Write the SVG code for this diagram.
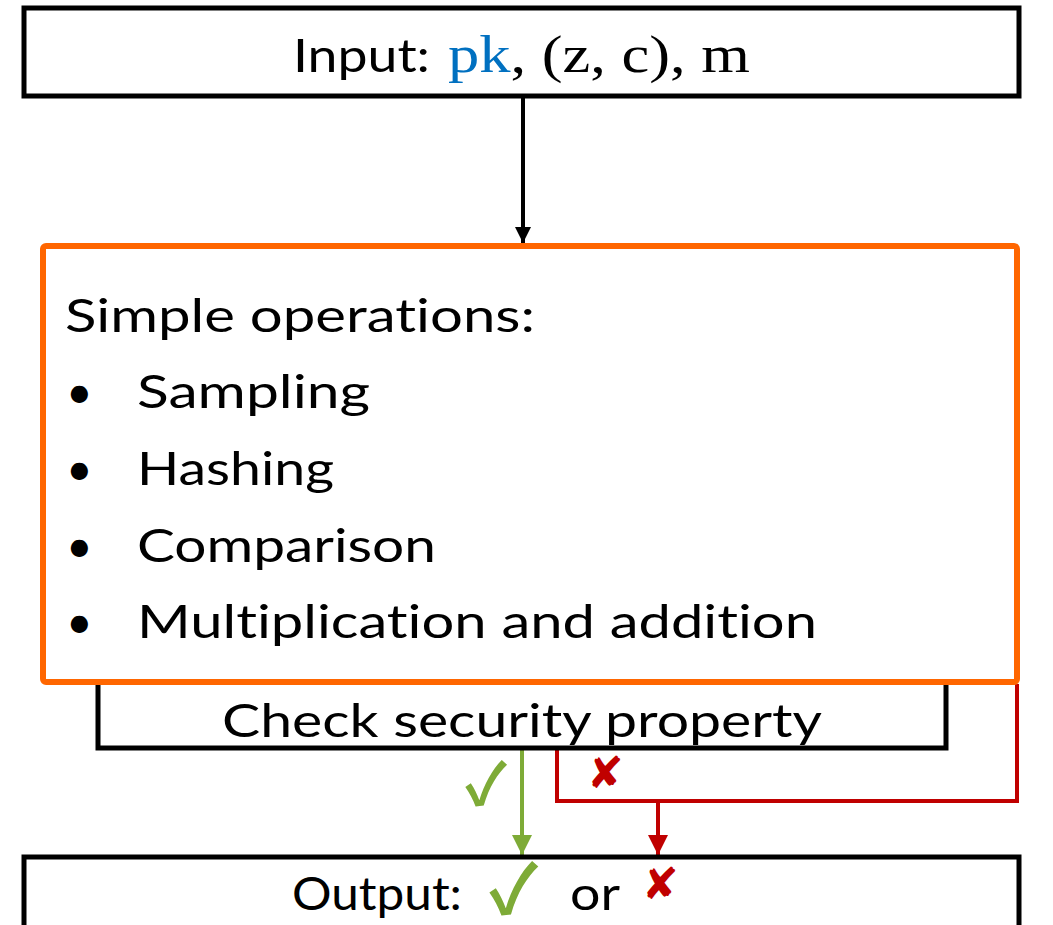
<svg xmlns="http://www.w3.org/2000/svg" width="1053" height="925" viewBox="0 0 1053 925">
  <style>
    .box { fill: #ffffff; stroke: #000000; stroke-width: 5; }
    .ops { fill: #ffffff; stroke: #FF6600; stroke-width: 6; }
    .sans { font-family: "Lato", "Liberation Sans", sans-serif; font-size: 46px; fill: #000000; font-variant-ligatures: none; }
    .math { font-family: "Liberation Serif", "DejaVu Serif", serif; font-size: 52px; fill: #000000; }
    .ok { fill: #7EAB37; font-family: "Noto Sans CJK JP", "DejaVu Sans", sans-serif; font-weight: 700; }
    .bad { fill: #C00000; font-family: "DejaVu Sans", sans-serif; font-weight: bold; }
  </style>
  <defs>
    <marker id="arrowBlack" viewBox="0 0 10 10" refX="10" refY="5" markerWidth="4" markerHeight="4" orient="auto" markerUnits="strokeWidth">
      <path d="M0,0 L10,5 L0,10 z" fill="#000000"/>
    </marker>
    <marker id="arrowGreen" viewBox="0 0 10 10" refX="10" refY="5" markerWidth="5" markerHeight="5" orient="auto" markerUnits="strokeWidth">
      <path d="M0,0 L10,5 L0,10 z" fill="#7EAB37"/>
    </marker>
    <marker id="arrowRed" viewBox="0 0 10 10" refX="10" refY="5" markerWidth="5" markerHeight="5" orient="auto" markerUnits="strokeWidth">
      <path d="M0,0 L10,5 L0,10 z" fill="#C00000"/>
    </marker>
  </defs>

  <!-- connectors -->
  <g id="connectors" fill="none">
    <line x1="523" y1="96" x2="523" y2="243" stroke="#000000" stroke-width="4" marker-end="url(#arrowBlack)"/>
    <line x1="522" y1="750" x2="522" y2="855" stroke="#7EAB37" stroke-width="4" marker-end="url(#arrowGreen)"/>
    <polyline points="557,750 557,801 1017,801 1017,684" stroke="#C00000" stroke-width="4"/>
    <line x1="658" y1="801" x2="658" y2="855" stroke="#C00000" stroke-width="4" marker-end="url(#arrowRed)"/>
    <text x="465" y="805" class="ok" font-size="58">✓</text>
    <text x="587" y="788" class="bad" font-size="44">✘</text>
  </g>

  <!-- input node -->
  <g id="input">
    <rect class="box" x="24" y="8" width="995" height="88"/>
    <text x="293" y="72" class="sans" textLength="137" lengthAdjust="spacingAndGlyphs">Input:</text>
    <text x="448" y="72" class="math" textLength="302" lengthAdjust="spacingAndGlyphs"><tspan fill="#0070C0">pk</tspan>, (z, c), m</text>
  </g>

  <!-- check node (partly behind the operations box) -->
  <g id="check">
    <rect class="box" x="98" y="660" width="848" height="88"/>
    <text x="222" y="737" class="sans" textLength="600" lengthAdjust="spacingAndGlyphs">Check security property</text>
  </g>

  <!-- operations node -->
  <g id="operations">
    <rect class="ops" x="43" y="246" width="974" height="436" rx="3"/>
    <text x="65" y="332" class="sans" textLength="470" lengthAdjust="spacingAndGlyphs">Simple operations:</text>
    <text x="66" y="408" class="sans">•</text>
    <text x="137" y="408" class="sans" textLength="233" lengthAdjust="spacingAndGlyphs">Sampling</text>
    <text x="66" y="485" class="sans">•</text>
    <text x="137" y="485" class="sans" textLength="197" lengthAdjust="spacingAndGlyphs">Hashing</text>
    <text x="66" y="562" class="sans">•</text>
    <text x="137" y="562" class="sans" textLength="299" lengthAdjust="spacingAndGlyphs">Comparison</text>
    <text x="66" y="638" class="sans">•</text>
    <text x="137" y="638" class="sans" textLength="680" lengthAdjust="spacingAndGlyphs">Multiplication and addition</text>
  </g>

  <!-- output node -->
  <g id="output">
    <rect class="box" x="24" y="857" width="995" height="90"/>
    <text x="292" y="910" class="sans" textLength="170" lengthAdjust="spacingAndGlyphs">Output:</text>
    <text x="489" y="914" class="ok" font-size="68">✓</text>
    <text x="570" y="910" class="sans" textLength="50" lengthAdjust="spacingAndGlyphs">or</text>
    <text x="642" y="899" class="bad" font-size="44">✘</text>
  </g>
</svg>
